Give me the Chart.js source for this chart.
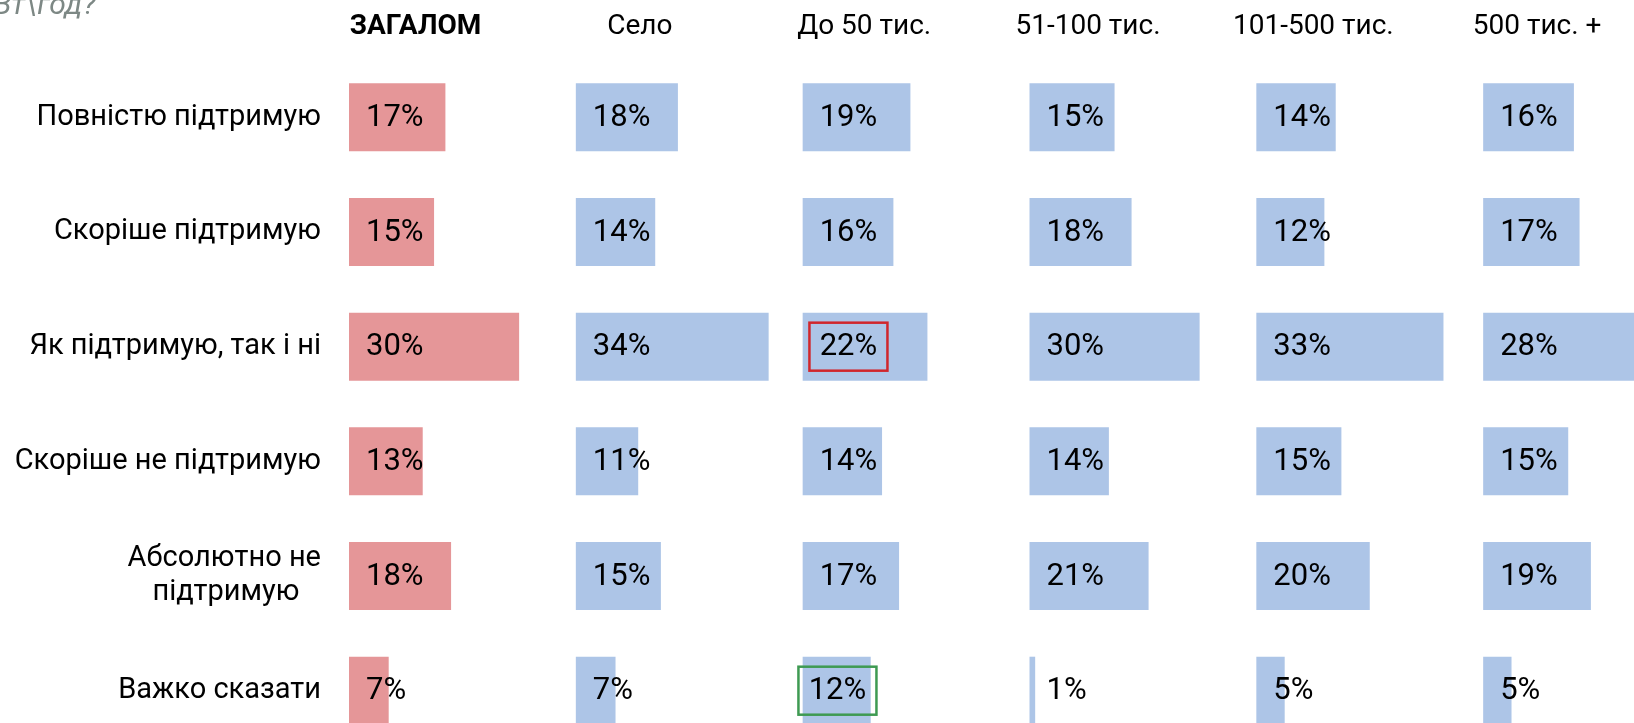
<!DOCTYPE html>
<html>
<head>
<meta charset="utf-8">
<script src="https://cdn.jsdelivr.net/npm/chart.js@4/dist/chart.umd.min.js"></script>
<style>
  html, body { margin:0; padding:0; background:#fff; width:1634px; height:723px; overflow:hidden; }
  #wrap { position:relative; width:1634px; height:723px; overflow:hidden; }
  #box { position:absolute; left:0; top:0; width:1710px; height:793px; }
  #question { position:absolute; right:1538px; top:-14px; font:italic 30px Roboto; color:#7d8885; white-space:nowrap; }
</style>
</head>
<body>
<div id="wrap">
  <div id="box"><canvas id="chart"></canvas></div>
  <div id="question">кВт\год?</div>
</div>
<script>
// ---- data ----
const categories = [
  'Повністю підтримую',
  'Скоріше підтримую',
  'Як підтримую, так і ні',
  'Скоріше не підтримую',
  ['Абсолютно не', 'підтримую   '],
  'Важко сказати'
];
const groups = ['ЗАГАЛОМ', 'Село', 'До 50 тис.', '51-100 тис.', '101-500 тис.', '500 тис. +'];
const totalValues   = [17, 15, 30, 13, 18, 7];
const seloValues    = [18, 14, 34, 11, 15, 7];
const upTo50Values  = [19, 16, 22, 14, 17, 12];
const k51to100      = [15, 18, 30, 14, 21, 1];
const k101to500     = [14, 12, 33, 15, 20, 5];
const k500plus      = [16, 17, 28, 15, 19, 5];
const seriesValues = [totalValues, seloValues, upTo50Values, k51to100, k101to500, k500plus];

// ---- style / layout ----
const PINK = '#E59698';
const BLUE = '#ADC5E7';
const PANEL_MAX = 40;              // each panel spans 0..40 %
const yAxisWidth = 349;
const headerOffsets = [66.5, 64, 61.5, 58.5, 57, 54];
const highlights = [
  { panel: 2, row: 2, color: '#D0262C', dx: 0 },
  { panel: 2, row: 5, color: '#3E9A52', dx: -11 }
];
const FONT = 'Roboto';
const nPanels = seriesValues.length;

const datasets = seriesValues.map((vals, i) => ({
  label: groups[i],
  data: vals,
  xAxisID: 'x' + i,
  backgroundColor: i === 0 ? PINK : BLUE,
  borderWidth: 0,
  grouped: false,
  barPercentage: 0.593,
  categoryPercentage: 1
}));

const scales = {
  y: {
    grid: { display: false, drawTicks: false },
    border: { display: false },
    ticks: {
      color: '#000',
      font: { family: FONT, size: 29, lineHeight: 1.17 },
      padding: 28
    },
    afterFit: (s) => { s.width = yAxisWidth; }
  }
};
seriesValues.forEach((v, i) => {
  scales['x' + i] = {
    type: 'linear',
    axis: 'x',
    position: 'bottom',
    display: false,
    min: -PANEL_MAX * i,
    max: PANEL_MAX * (nPanels - i)
  };
});

const labelPlugin = {
  id: 'barLabels',
  afterDatasetsDraw(chart) {
    const ctx = chart.ctx;
    ctx.save();
    ctx.font = '31px ' + FONT;
    ctx.textAlign = 'left';
    ctx.textBaseline = 'middle';
    chart.data.datasets.forEach((ds, i) => {
      const meta = chart.getDatasetMeta(i);
      meta.data.forEach((el, j) => {
        const txt = ds.data[j] + '%';
        const hl = highlights.find(h => h.panel === i && h.row === j);
        const x = el.base + 17 + (hl ? hl.dx : 0);
        ctx.fillStyle = '#000';
        ctx.fillText(txt, x, el.y + 1);
        if (hl) {
          const w = ctx.measureText(txt).width;
          const cx = x + w / 2;
          ctx.strokeStyle = hl.color;
          ctx.lineWidth = 2.5;
          ctx.strokeRect(cx - 39, el.y - 24, 78, 48);
        }
      });
    });
    ctx.restore();
  }
};

const headerPlugin = {
  id: 'panelHeaders',
  afterDraw(chart) {
    const ctx = chart.ctx;
    ctx.save();
    ctx.fillStyle = '#000';
    ctx.textAlign = 'center';
    ctx.textBaseline = 'middle';
    groups.forEach((g, i) => {
      const left = chart.scales['x' + i].getPixelForValue(0);
      ctx.font = (i === 0 ? 'bold ' : '') + '28px ' + FONT;
      ctx.fillText(g, left + headerOffsets[i], 27);
    });
    ctx.restore();
  }
};

new Chart(document.getElementById('chart'), {
  type: 'bar',
  data: { labels: categories, datasets },
  options: {
    indexAxis: 'y',
    responsive: true,
    maintainAspectRatio: false,
    animation: false,
    events: [],
    layout: { padding: { top: 60, bottom: 0, left: 0, right: 0 } },
    plugins: {
      legend: { display: false },
      tooltip: { enabled: false }
    },
    scales
  },
  plugins: [labelPlugin, headerPlugin]
});
</script>
</body>
</html>
